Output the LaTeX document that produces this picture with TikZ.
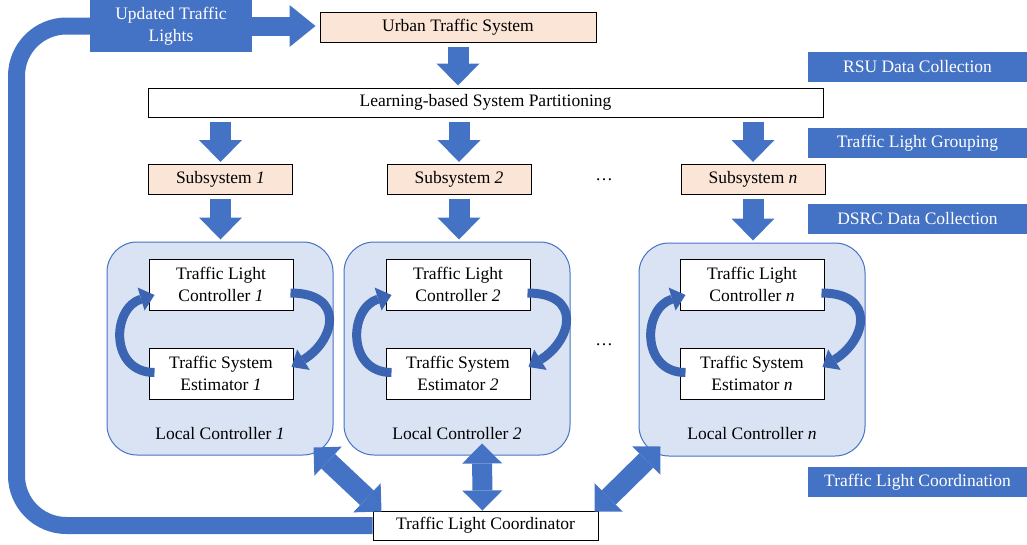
\documentclass[tikz,border=0pt]{standalone}
\usepackage{fontspec}
\setmainfont{Liberation Serif}
\usetikzlibrary{arrows.meta,calc}
\definecolor{boxblue}{HTML}{4472C4}
\definecolor{peach}{HTML}{FBE5D6}
\definecolor{lcfill}{HTML}{DAE3F3}
\definecolor{curveblue}{HTML}{3B65B3}
\tikzset{
  stage/.style={fill=boxblue, text=white, minimum width=219pt, minimum height=30pt, inner sep=0pt},
  subbox/.style={draw=black, fill=peach, line width=1pt, minimum width=144pt, minimum height=30pt, inner sep=0pt},
  plainbox/.style={draw=black, fill=white, line width=1pt, minimum height=29pt, inner sep=0pt},
  innerbox/.style={draw=black, fill=white, line width=1pt, minimum width=144pt, minimum height=51pt, inner sep=0pt, align=center},
  localbox/.style={draw=boxblue, fill=lcfill, line width=1pt, rounded corners=30pt, minimum width=226pt, minimum height=213pt},
  downarrow/.style={draw=boxblue, line width=21pt, -{Triangle[length=22pt,width=43pt,line width=0pt]}, shorten <=4pt, shorten >=2pt},
  dblarrow/.style={draw=boxblue, line width=20pt, {Triangle[length=20pt,width=40pt,line width=0pt]}-{Triangle[length=20pt,width=40pt,line width=0pt]}},
  cyclearrow/.style={draw=curveblue, line width=9pt, -{Triangle[length=14pt,width=24pt,line width=0pt]}},
}
\begin{document}
\begin{tikzpicture}[x=1pt, y=-1pt, font=\fontsize{17.5}{22}\selectfont]
  \useasboundingbox (0,0) rectangle (1027,544);
  % top row
  \node[fill=boxblue, text=white, align=center, minimum width=162pt, minimum height=52pt, inner sep=0pt] (upd) at (171,26) {Updated Traffic\\Lights};
  \node[subbox, minimum width=276pt] (urban) at (458,27) {Urban Traffic System};
  \node[plainbox, minimum width=675pt] (learn) at (485.5,102.5) {Learning-based System Partitioning};
  % stage labels
  \node[stage] (rsu) at (917.5,67) {RSU Data Collection};
  \node[stage] (group) at (917.5,143) {Traffic Light Grouping};
  \node[stage] (dsrc) at (917.5,218.5) {DSRC Data Collection};
  \node[stage] (coordlab) at (917.5,482) {Traffic Light Coordination};
  % subsystems
  \node[subbox] (sub1) at (220.5,179.5) {Subsystem \textit{1}};
  \node[subbox] (sub2) at (459,179.5) {Subsystem \textit{2}};
  \node[subbox] (subn) at (753,179.5) {Subsystem \textit{n}};
  \node (dots1) at (604,180) {\ldots};
  % local controllers
  \node[localbox] (lc1) at (220,348.5) {};
  \node[localbox] (lc2) at (457,348.5) {};
  \node[localbox] (lcn) at (752,349.5) {};
  \node (dots2) at (604,345) {\ldots};
  \node[innerbox] (tlc1) at (221,284.5) {Traffic Light\\Controller \textit{1}};
  \node[innerbox] (tse1) at (221,373.5) {Traffic System\\Estimator \textit{1}};
  \node[innerbox] (tlc2) at (458,284.5) {Traffic Light\\Controller \textit{2}};
  \node[innerbox] (tse2) at (458,373.5) {Traffic System\\Estimator \textit{2}};
  \node[innerbox] (tlcn) at (752,284.5) {Traffic Light\\Controller \textit{n}};
  \node[innerbox] (tsen) at (752,373.5) {Traffic System\\Estimator \textit{n}};
  \node (lab1) at (220,434) {Local Controller \textit{1}};
  \node (lab2) at (457,434) {Local Controller \textit{2}};
  \node (labn) at (752,434) {Local Controller \textit{n}};
  % coordinator
  \node[plainbox, minimum width=225pt] (coord) at (485.5,525.5) {Traffic Light Coordinator};
  % feedback loop
  \draw[boxblue, line width=17pt, rounded corners=50pt] (upd.west) -- (16.5,26) -- (16.5,525.5) -- (coord.west);
  \draw[boxblue, line width=19pt, -{Triangle[length=26pt,width=42pt,line width=0pt]}, shorten >=4pt] (upd.east) -- (upd.east -| urban.west);
  % block arrows
  \draw[downarrow] (urban.south) -- (urban.south |- learn.north);
  \draw[downarrow] (learn.south -| sub1.north) -- (sub1.north);
  \draw[downarrow] (learn.south -| sub2.north) -- (sub2.north);
  \draw[downarrow] (learn.south -| subn.north) -- (subn.north);
  \draw[downarrow] (sub1.south) -- (sub1.south |- lc1.north);
  \draw[downarrow] (sub2.south) -- (sub2.south |- lc2.north);
  \draw[downarrow] (subn.south) -- (subn.south |- lcn.north);
  % inner cycles
  \draw[cyclearrow] ($(tlc1.east)+(-3,8.5)$) .. controls +(55,0) and +(44,-27) .. ($(tse1.east)+(-2,-6.5)$);
  \draw[cyclearrow] ($(tse1.west)+(6,-1)$) .. controls +(-45,0) and +(-43,13) .. ($(tlc1.west)+(6,10.5)$);
  \draw[cyclearrow] ($(tlc2.east)+(-3,8.5)$) .. controls +(55,0) and +(44,-27) .. ($(tse2.east)+(-2,-6.5)$);
  \draw[cyclearrow] ($(tse2.west)+(6,-1)$) .. controls +(-45,0) and +(-43,13) .. ($(tlc2.west)+(6,10.5)$);
  \draw[cyclearrow] ($(tlcn.east)+(-3,8.5)$) .. controls +(55,0) and +(44,-27) .. ($(tsen.east)+(-2,-6.5)$);
  \draw[cyclearrow] ($(tsen.west)+(6,-1)$) .. controls +(-45,0) and +(-43,13) .. ($(tlcn.west)+(6,10.5)$);
  % coordination arrows
  \draw[dblarrow] ($(lc1.south east)+(-20,-8)$) -- ($(coord.north west)+(9,1)$);
  \draw[dblarrow] ($(lc2.south)+(25,-12)$) -- ($(coord.north)+(-3,0)$);
  \draw[dblarrow] ($(lcn.south west)+(22,-10)$) -- ($(coord.north east)+(-4,1)$);
\end{tikzpicture}
\end{document}
